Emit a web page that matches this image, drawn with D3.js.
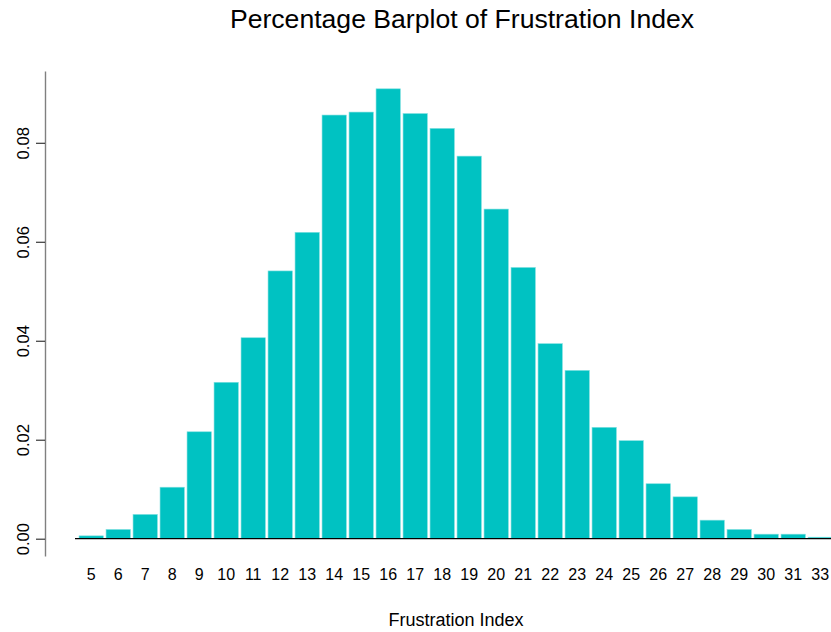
<!DOCTYPE html>
<html>
<head>
<meta charset="utf-8">
<script src="https://cdn.jsdelivr.net/npm/d3@7"></script>
<style>
  body { margin: 0; background: #fff; }
  svg { display: block; font-family: "Liberation Sans", Arial, Helvetica, sans-serif; }
</style>
</head>
<body>
<div id="chart"></div>
<script>
// frustration index values (32 does not occur)
const categories = ["5", "6", "7", "8", "9", "10", "11", "12", "13", "14", "15", "16", "17", "18",
    "19", "20", "21", "22", "23", "24", "25", "26", "27", "28", "29", "30", "31", "33"];
// share of respondents per value
const shares = [0.00057, 0.00186, 0.0049, 0.0104, 0.0216, 0.0316, 0.0406, 0.0541, 0.0619, 0.0856,
    0.0862, 0.0909, 0.0859, 0.0829, 0.0773, 0.0666, 0.0548, 0.0394, 0.0340, 0.0225,
    0.0198, 0.0111, 0.00845, 0.00374, 0.00186, 0.00091, 0.00091, 0.0003];
const yTicks = [0, 0.02, 0.04, 0.06, 0.08];

const width = 831,
    height = 632;

const data = categories.map((c, i) => ({name: c, value: shares[i]}));

const svg = d3.select("#chart").append("svg")
    .attr("width", width)
    .attr("height", height);

// step 27px per bar, first bar starts at 79
let x = d3.scaleBand()
    .domain(categories)
    .range([75, 75 + 27 * (categories.length - 0.1 + 0.3)])
    .paddingInner(0.1)
    .paddingOuter(0.15)
let y = d3.scaleLinear()
    .domain([-0.0035, 0.0945])
    .range([556, 71])

svg.append("g")
    .selectAll("rect")
    .data(data)
    .join("rect")
        .attr("x", d => x(d.name))
        .attr("y", d => y(d.value))
        .attr("width", x.bandwidth())
        .attr("height", d => y(0) - y(d.value))
        .attr("fill", "#00c2c2")
        .attr("stroke", "#7fe0e0")
        .attr("stroke-width", 0.6);

// baseline under the bars
svg.append("line")
    .attr("x1", 75)
    .attr("x2", width)
    .attr("y1", y(0))
    .attr("y2", y(0))
    .attr("stroke", "#000")
    .attr("stroke-width", 1.2);

// y axis, labels rotated like R's default las=0
let yAxis = g => g
    .attr("transform", "translate(45,0)")
    .call(d3.axisLeft(y).tickValues(yTicks).tickFormat(d3.format(".2f")).tickSize(9).tickSizeOuter(0))
    .call(g => g.select(".domain").attr("stroke", "#808080").attr("stroke-width", 1.4))
    .call(g => g.selectAll(".tick line").attr("stroke", "#111"))
    .call(g => g.selectAll(".tick text")
        .attr("transform", "rotate(-90)")
        .attr("x", 0)
        .attr("y", -16.5)
        .attr("dy", 0)
        .style("text-anchor", "middle")
        .style("font-size", "16.6px")
        .attr("fill", "#000"));

svg.append("g").call(yAxis);

// category labels under bars
svg.append("g")
    .selectAll("text")
    .data(categories)
    .join("text")
        .attr("x", d => x(d) + x.bandwidth() / 2)
        .attr("y", 580)
        .style("text-anchor", "middle")
        .style("font-size", "16px")
        .text(d => d);

svg.append("text")
    .attr("x", 462)
    .attr("y", 28)
    .style("text-anchor", "middle")
    .style("font-size", "26.6px")
    .text("Percentage Barplot of Frustration Index");

svg.append("text")
    .attr("x", 456)
    .attr("y", 626)
    .style("text-anchor", "middle")
    .style("font-size", "18px")
    .text("Frustration Index");
</script>
</body>
</html>
